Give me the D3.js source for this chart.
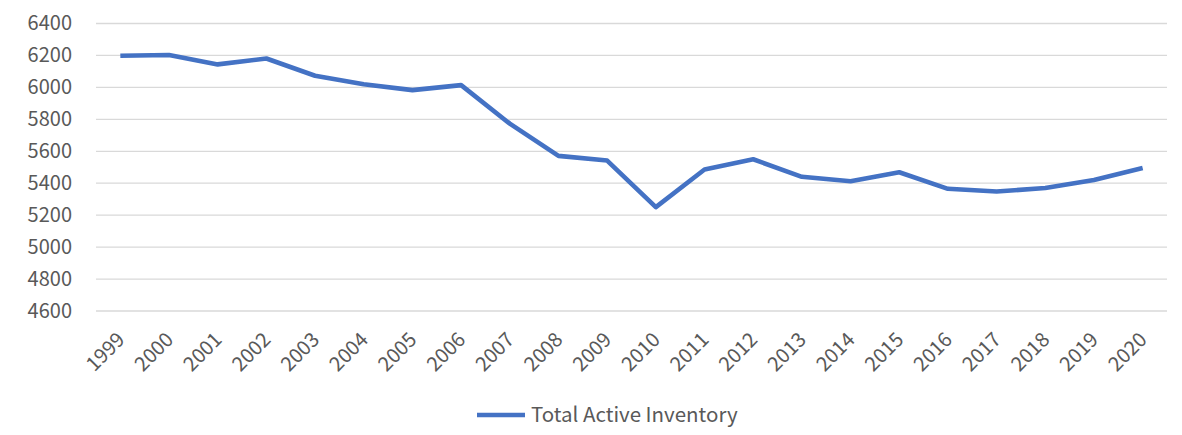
<!DOCTYPE html>
<html>
<head>
<meta charset="utf-8">
<script src="https://cdn.jsdelivr.net/npm/d3@7"></script>
<style>
  html, body { margin: 0; padding: 0; background: #fff; }
  svg { display: block; }
  text { font-family: "Noto Sans CJK JP", "Noto Sans", sans-serif; fill: #595959; }
</style>
</head>
<body>
<svg id="chart" width="1182" height="435"></svg>
<script>
const years = ["1999","2000","2001","2002","2003","2004","2005","2006","2007","2008","2009","2010","2011","2012","2013","2014","2015","2016","2017","2018","2019","2020"];
const inventory = [6198, 6203, 6144, 6181, 6073, 6020, 5983, 6014, 5773, 5571, 5542, 5250, 5486, 5550, 5440, 5412, 5469, 5365, 5348, 5370, 5420, 5495];
const yTicks = [4600, 4800, 5000, 5200, 5400, 5600, 5800, 6000, 6200, 6400];
const seriesName = "Total Active Inventory";

(function () {
const svg = d3.select("#chart");
const plotLeft = 96, plotRight = 1167, plotTop = 23.5, plotBottom = 311;
const fontFam = '"Noto Sans CJK JP", "Noto Sans", sans-serif';

const x = d3.scalePoint().domain(years).range([plotLeft, plotRight]).padding(0.5);
const y = d3.scaleLinear().domain([4600, 6400]).range([plotBottom, plotTop]);

// gridlines
svg.append("g")
  .selectAll("line")
  .data(yTicks)
  .join("line")
  .attr("x1", plotLeft).attr("x2", plotRight)
  .attr("y1", d => y(d)).attr("y2", d => y(d))
  .attr("stroke", "#d9d9d9").attr("stroke-width", 1.3);

// y axis labels
const yAxis = d3.axisLeft(y).tickValues(yTicks).tickSize(0).tickPadding(0).tickFormat(d3.format("d"));
const gy = svg.append("g").attr("transform", `translate(72,0)`).call(yAxis);
gy.select(".domain").remove();
gy.selectAll("text").style("font-size", "20px").attr("fill", "#595959")
  .style("font-family", fontFam);

// x axis labels
const xAxis = d3.axisBottom(x).tickSize(0).tickPadding(0);
const gx = svg.append("g").attr("transform", `translate(0,${plotBottom})`).call(xAxis);
gx.select(".domain").remove();
gx.selectAll("text")
  .style("font-size", "20px").attr("fill", "#595959")
  .style("font-family", fontFam)
  .attr("text-anchor", "end")
  .attr("dy", null).attr("y", 0)
  .attr("transform", "translate(5,30) rotate(-45)");

// line
const line = d3.line().x((d, i) => x(years[i])).y(d => y(d));
svg.append("path")
  .datum(inventory)
  .attr("d", line)
  .attr("fill", "none")
  .attr("stroke", "#4472C4")
  .attr("stroke-width", 4.6)
  .attr("stroke-linejoin", "round");

// legend
const lg = svg.append("g");
lg.append("line")
  .attr("x1", 477).attr("x2", 525).attr("y1", 415).attr("y2", 415)
  .attr("stroke", "#4472C4").attr("stroke-width", 4.6);
lg.append("text")
  .attr("x", 531).attr("y", 415).attr("dy", "0.35em")
  .style("font-size", "20.5px")
  .text(seriesName);
})();
</script>
</body>
</html>
